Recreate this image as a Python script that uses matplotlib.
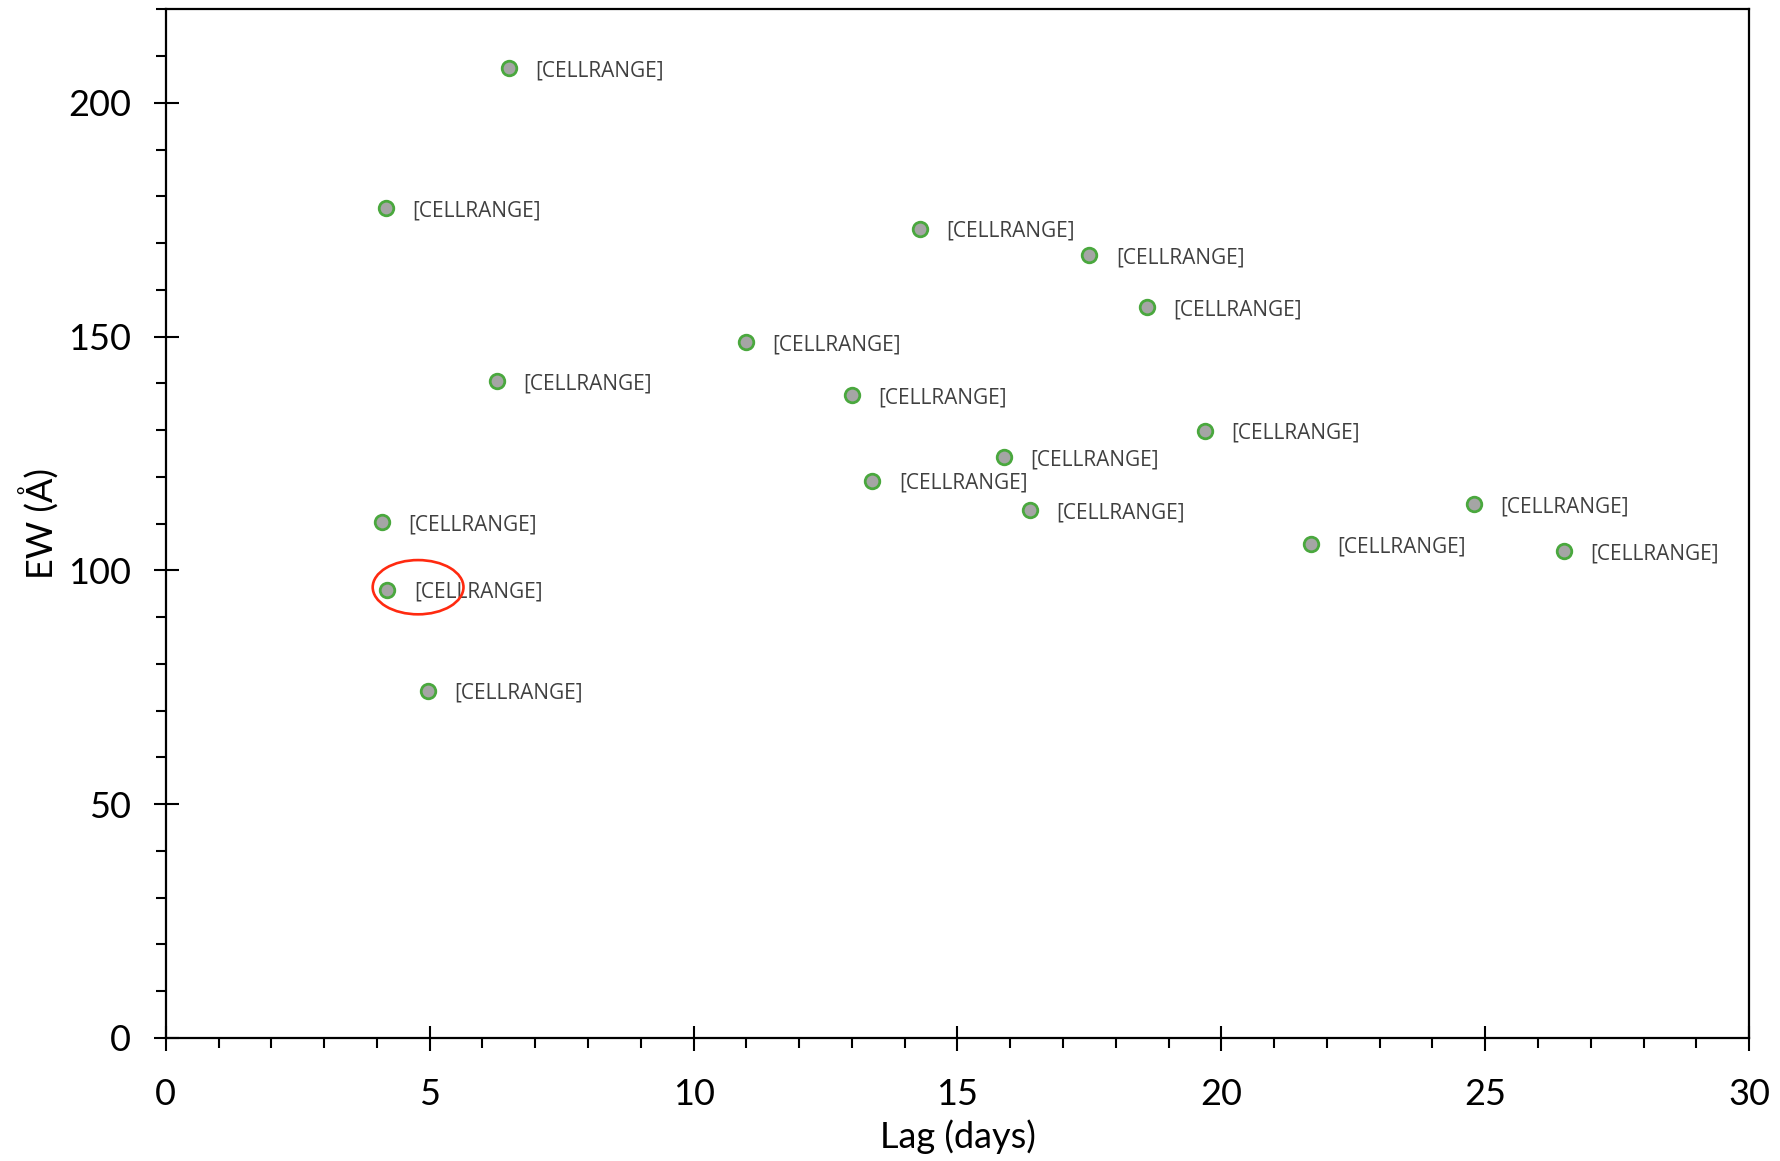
import matplotlib
matplotlib.use('Agg')
import matplotlib.pyplot as plt
from matplotlib.patches import Ellipse
from matplotlib.ticker import MultipleLocator

plt.rcParams['font.family'] = ['Lato', 'DejaVu Sans']

# lag (days) and equivalent width (Angstrom)
lag = [6.50, 4.17, 14.29, 17.50, 18.59, 11.00, 6.28, 13.00, 19.69,
       15.88, 13.39, 16.38, 24.79, 4.09, 21.69, 26.49, 4.20, 4.97]
ew = [207.5, 177.4, 173.1, 167.5, 156.3, 148.8, 140.5, 137.4, 129.9,
      124.3, 119.2, 112.9, 114.1, 110.4, 105.6, 104.1, 95.9, 74.3]
point_labels = ['[CELLRANGE]'] * len(lag)
highlight = 16  # point circled in red

fig = plt.figure(figsize=(17.81, 11.61), dpi=100)
ax = fig.add_axes([0.0931, 0.106, 0.889, 0.886])

ax.scatter(lag, ew, s=110, facecolor='#a5a5a5', edgecolor='#4aa83e',
           linewidth=2.0, zorder=3)
for x, y, t in zip(lag, ew, point_labels):
    ax.annotate(t, (x, y), xytext=(19, -2), textcoords='offset points',
                va='center', ha='left', fontsize=15, color='#404040',
                family=['Open Sans', 'DejaVu Sans'])

# red ring around one point
ax.add_patch(Ellipse((lag[highlight] + 0.58, ew[highlight] + 0.5), 1.72, 11.6,
                     fill=False, edgecolor='#ff2a10', linewidth=1.9, zorder=4))

ax.set_xlim(0, 30)
ax.set_ylim(0, 220)
ax.xaxis.set_major_locator(MultipleLocator(5))
ax.xaxis.set_minor_locator(MultipleLocator(1))
ax.yaxis.set_major_locator(MultipleLocator(50))
ax.yaxis.set_minor_locator(MultipleLocator(10))
ax.tick_params(which='major', direction='inout', length=18, width=1.5,
               labelsize=26)
ax.tick_params(which='minor', direction='out', length=7, width=1.5)
ax.tick_params(axis='x', pad=20)
ax.tick_params(axis='y', pad=16)

for s in ax.spines.values():
    s.set_linewidth(1.6)

ax.set_xlabel('Lag (days)', fontsize=26, labelpad=6)
ax.set_ylabel('EW (Å)', fontsize=26, labelpad=6)

plt.savefig('out.png', dpi=100)
